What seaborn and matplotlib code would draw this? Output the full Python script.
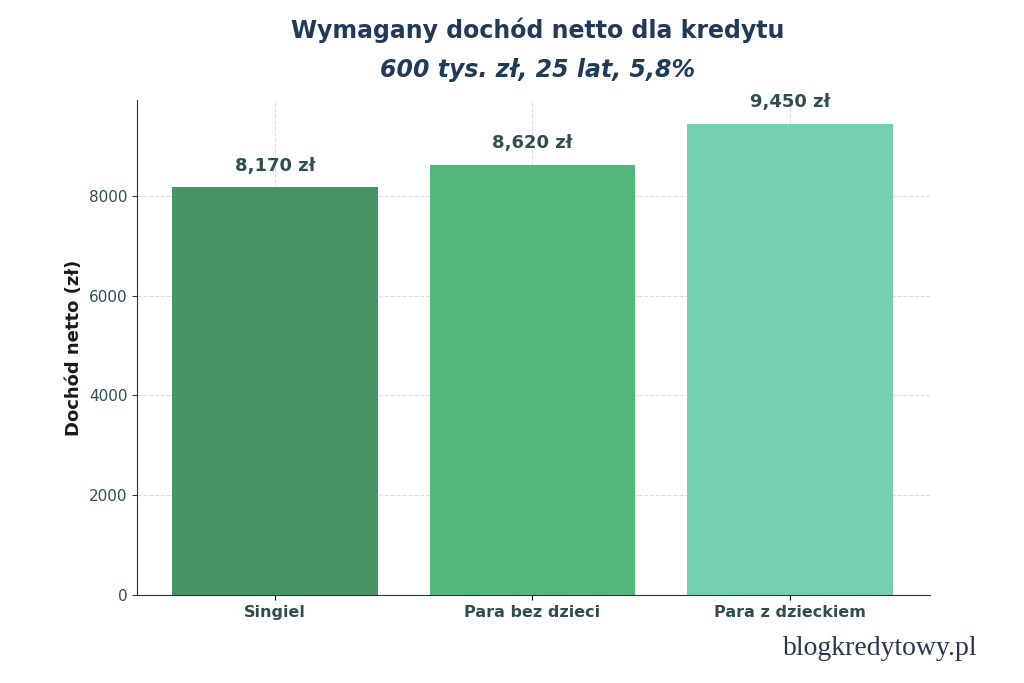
import matplotlib
matplotlib.use("Agg")
import matplotlib.pyplot as plt
import seaborn as sns
import pandas as pd

categories = ["Singiel", "Para bez dzieci", "Para z dzieckiem"]
values = [8170, 8620, 9450]
labels = ["8,170 zł", "8,620 zł", "9,450 zł"]
colors = ["#449466", "#52B77D", "#74D0B0"]

df = pd.DataFrame({"cat": categories, "val": values})
fig = plt.figure(figsize=(10.24, 6.83), dpi=100)
ax = fig.add_axes([137/1024, 88/683, 793/1024, 495/683])
sns.barplot(data=df, x="cat", y="val", hue="cat", palette=colors, legend=False,
            width=0.8, saturation=1, ax=ax, zorder=2)
ax.set_xlim(-0.537, 2.545)
ax.set_ylim(0, 9922)
ax.set_yticks([0, 2000, 4000, 6000, 8000])
ax.grid(True, linestyle="--", color="#dddddd", linewidth=0.8, zorder=0)
ax.set_axisbelow(True)
for s in ["top", "right"]:
    ax.spines[s].set_visible(False)
ax.spines["left"].set_color("#333333")
ax.spines["bottom"].set_color("#333333")
ax.tick_params(axis="y", labelsize=11, colors="#333333", labelcolor="#2f4f4f")
ax.tick_params(axis="x", labelsize=11.5, labelcolor="#2f4f4f")
for t in ax.get_xticklabels():
    t.set_fontweight("bold")
ax.set_xlabel("")
ax.set_ylabel("Dochód netto (zł)", fontsize=13, fontweight="bold", color="#1a1a1a")
for i, (v, l) in enumerate(zip(values, labels)):
    ax.text(i, v + 250, l, ha="center", va="bottom", fontsize=13,
            fontweight="bold", color="#2f4f4f")
fig.text(0.525, 0.955, "Wymagany dochód netto dla kredytu", ha="center", va="center",
         fontsize=17, fontweight="bold", color="#1f3a5a", family="Montserrat" if False else "DejaVu Sans")
fig.text(0.525, 0.898, "600 tys. zł, 25 lat, 5,8%", ha="center", va="center",
         fontsize=17, fontweight="bold", style="italic", color="#1f3a5a")
fig.text(0.955, 0.05, "blogkredytowy.pl", ha="right", va="center", fontsize=20,
         family="Liberation Serif", color="#2a3550")
fig.savefig("out.png", dpi=100)
